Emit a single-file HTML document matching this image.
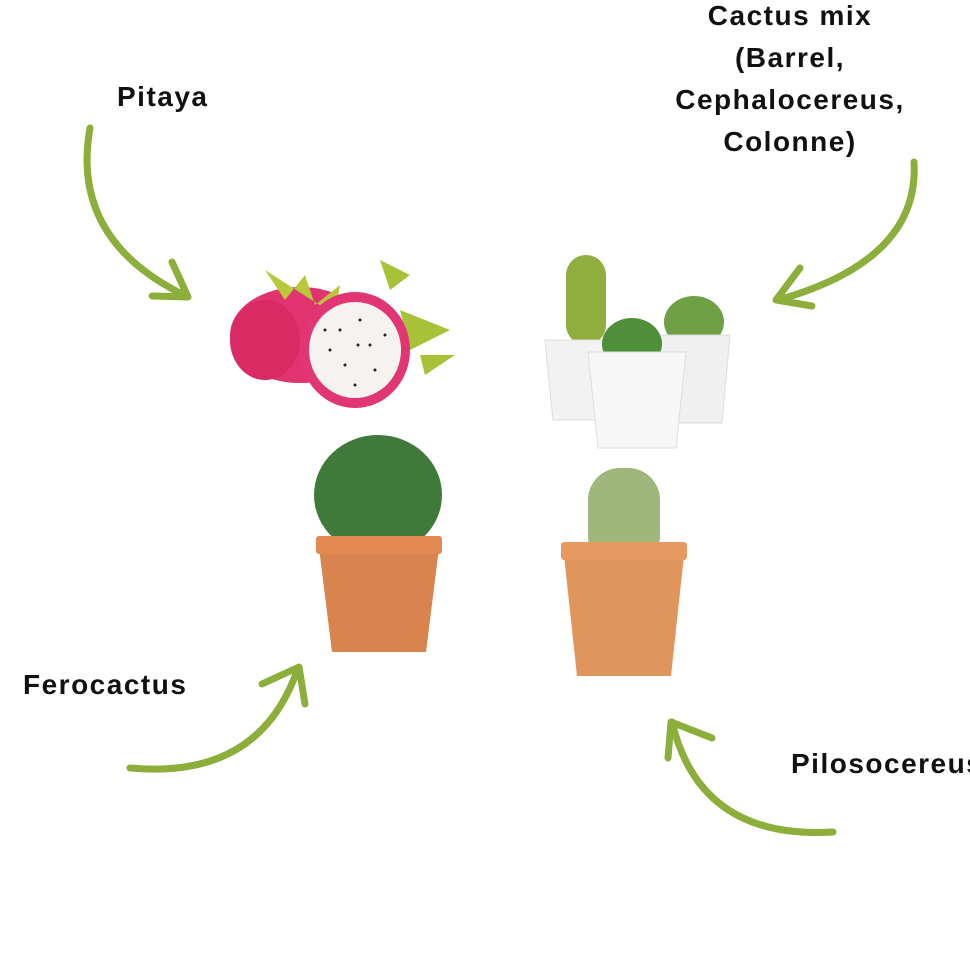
<!DOCTYPE html>
<html><head><meta charset="utf-8"><style>
html,body{margin:0;padding:0;background:#fff;}
body{width:970px;height:971px;position:relative;overflow:hidden;font-family:"Liberation Sans",sans-serif;}
.t{position:absolute;font-weight:bold;font-size:28px;letter-spacing:1.5px;color:#111;line-height:42px;white-space:nowrap;}
svg{position:absolute;left:0;top:0;}
</style></head><body>
<svg width="970" height="971" viewBox="0 0 970 971">
<g fill="none" stroke="#8cae3a" stroke-width="7" stroke-linecap="round" stroke-linejoin="round">
<path d="M90 128 Q70 240 186 296"/><path d="M152 296 L188 297 L172 262"/>
<path d="M914 162 Q920 260 778 300"/><path d="M800 268 L776 300 L812 306"/>
<path d="M130 768 Q260 780 298 668"/><path d="M262 684 L299 667 L305 704"/>
<path d="M833 832 Q700 840 672 722"/><path d="M668 758 L671 722 L712 738"/>
</g>
<ellipse cx="300" cy="335" rx="70" ry="48" fill="#e0336f"/>
<ellipse cx="265" cy="340" rx="35" ry="40" fill="#d92a63"/>
<path d="M265 270 l20 30 l20 -25 l10 30 l25 -20 l-5 30 z" fill="#b8c83a"/>
<path d="M380 260 l10 30 l20 -15 z M400 310 l50 20 l-40 20 z M420 355 l35 0 l-30 20 z" fill="#a8c238"/>
<ellipse cx="355" cy="350" rx="55" ry="58" fill="#e23574"/>
<ellipse cx="355" cy="350" rx="46" ry="48" fill="#f6f2f0"/>
<g fill="#222"><circle cx="340" cy="330" r="1.5"/><circle cx="360" cy="320" r="1.5"/><circle cx="370" cy="345" r="1.5"/><circle cx="345" cy="365" r="1.5"/><circle cx="330" cy="350" r="1.5"/><circle cx="375" cy="370" r="1.5"/><circle cx="355" cy="385" r="1.5"/><circle cx="385" cy="335" r="1.5"/><circle cx="325" cy="330" r="1.5"/><circle cx="358" cy="345" r="1.5"/></g>
<rect x="566" y="255" width="40" height="90" rx="20" fill="#8fae3e"/>
<path d="M545 340 h65 l-8 80 h-49 z" fill="#f2f2f2" stroke="#ddd"/>
<ellipse cx="694" cy="322" rx="30" ry="26" fill="#6fa045"/>
<path d="M655 335 h75 l-8 88 h-59 z" fill="#f0f0f0" stroke="#ddd"/>
<ellipse cx="632" cy="344" rx="30" ry="26" fill="#4f8f3a"/>
<path d="M588 352 h98 l-10 96 h-78 z" fill="#f7f7f7" stroke="#ddd"/>
<ellipse cx="378" cy="495" rx="64" ry="60" fill="#3f7a3a"/>
<path d="M318 540 h122 l-14 112 h-94 z" fill="#d9844e"/>
<rect x="316" y="536" width="126" height="18" rx="3" fill="#e08a52"/>
<rect x="588" y="468" width="72" height="100" rx="32" fill="#9fb77a"/>
<path d="M563 546 h122 l-14 130 h-94 z" fill="#e0955d"/>
<rect x="561" y="542" width="126" height="18" rx="3" fill="#e69a60"/>
</svg>
<div class="t" style="left:117px;top:76px;">Pitaya</div>
<div class="t" style="left:650px;top:-5px;width:280px;text-align:center;">Cactus mix<br>(Barrel,<br>Cephalocereus,<br>Colonne)</div>
<div class="t" style="left:23px;top:664px;">Ferocactus</div>
<div class="t" style="left:791px;top:743px;">Pilosocereus</div>
</body></html>
